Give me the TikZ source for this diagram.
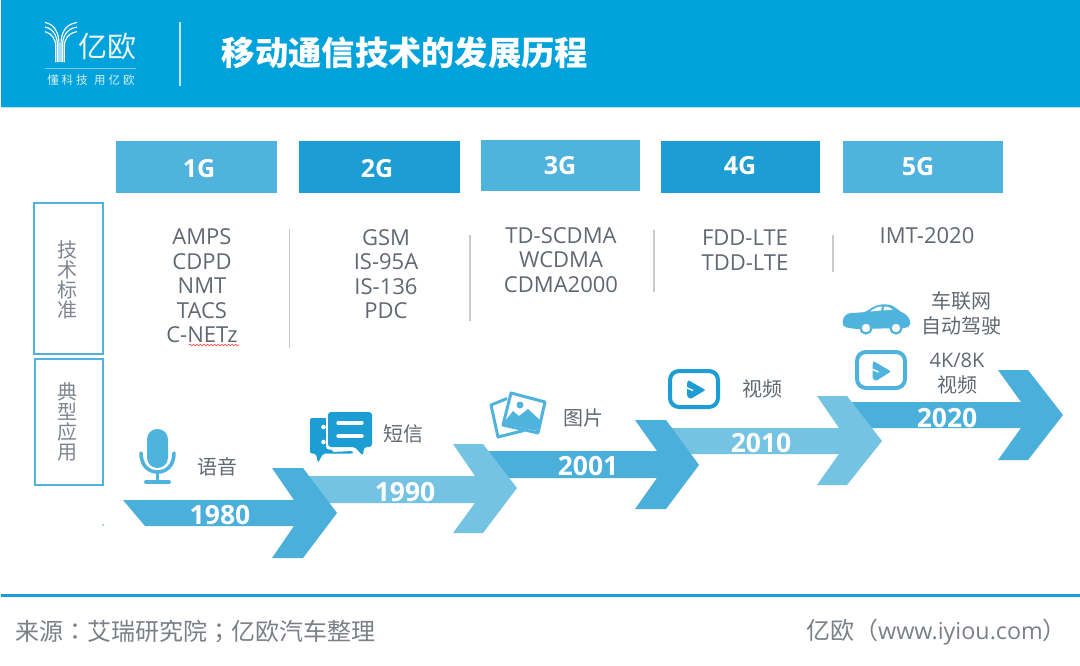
\documentclass[tikz,border=0pt]{standalone}
\usepackage{fontspec}
\setmainfont{Open Sans}
\newfontfamily\cjk{Noto Sans CJK SC}
\newfontfamily\cjktc{Noto Sans CJK TC}
\usetikzlibrary{decorations.pathmorphing}
\definecolor{hdr}{HTML}{00A2DB}
\definecolor{boxA}{HTML}{50B3DE}
\definecolor{boxB}{HTML}{1C9DD3}
\definecolor{arrD}{HTML}{4AAFDB}
\definecolor{arrL}{HTML}{74C3E3}
\definecolor{txt}{HTML}{626872}
\definecolor{sideT}{HTML}{7F8590}
\definecolor{sep}{HTML}{C9C9C9}
\definecolor{foot}{HTML}{7B8087}
\tikzset{
  genbox/.style={inner sep=0pt,text=white,font=\bfseries\fontsize{25}{27}\selectfont},
  sidebox/.style={draw=boxA,line width=2pt,fill=white},
  sidetext/.style={inner sep=0pt,align=center,text=sideT,font=\cjk\fontsize{20}{20}\selectfont},
  stdtext/.style={inner sep=0pt,align=center,text=txt,font=\fontsize{22}{24.5}\selectfont},
  apptext/.style={inner sep=0pt,align=center,text=txt,font=\cjk\fontsize{20}{25}\selectfont},
  yeartext/.style={inner sep=0pt,text=white,font=\bfseries\fontsize{26.5}{26.5}\selectfont},
  seprule/.style={draw=sep,line width=1.4pt},
  logoline/.style={draw=white,line width=1.15pt},
}
\begin{document}
\begin{tikzpicture}[x=1pt,y=-1pt]
\useasboundingbox (0,0) rectangle (1080,665);
\fill[white] (0,0) rectangle (1080,665);
% header
\fill[hdr] (1,0) rectangle (1080,107);
\draw[line width=1.2pt,draw=white!70!hdr] (1,107.5) -- (1080,107.5);
% logo
\foreach \i in {0,1,2}{
  \draw[logoline] ({59-\i*1.6},62) -- ({59-\i*1.6},{44+\i}) .. controls ({59-\i*1.6},{32+\i*4}) and ({54-\i},{24+\i*4.5}) .. (45,{22.5+\i*4.6});
  \draw[logoline] ({61+\i*1.6},62) -- ({61+\i*1.6},{44+\i}) .. controls ({61+\i*1.6},{32+\i*4}) and ({66+\i},{24+\i*4.5}) .. (77,{22.5+\i*4.6});
}
\node[inner sep=0pt,text=white!92!hdr,font=\cjk\fontsize{29}{29}\selectfont] (logotxt) at (107,47) {亿欧};
\draw[draw=white!45!hdr,line width=1pt] (45,68) -- (136,68);
\node[inner sep=0pt,text=white!85!hdr,font=\cjk\fontsize{11.5}{12}\selectfont] (logosub) at (91,80) {懂\hspace{3pt}科\hspace{3pt}技\hspace{6.5pt}用\hspace{3pt}亿\hspace{3pt}欧};
\draw[draw=white!75!hdr,line width=1.8pt] (180,22) -- (180,86);
\node[inner sep=0pt,text=white,font=\cjk\bfseries\fontsize{33.3}{35}\selectfont] (title) at (405,53) {移动通信技术的发展历程};

% generation boxes
\fill[boxA] (116,141) rectangle (277,193);
\fill[boxB] (299,141) rectangle (460,193);
\fill[boxA] (481,140) rectangle (640,191);
\fill[boxB] (661,141) rectangle (820,193);
\fill[boxA] (843,141) rectangle (1003,193);
\node[genbox] (g1) at (199,169) {1G};
\node[genbox] (g2) at (377,169) {2G};
\node[genbox] (g3) at (560,166) {3G};
\node[genbox] (g4) at (740,166) {4G};
\node[genbox] (g5) at (918,167) {5G};

% side boxes
\draw[sidebox] (34,203) rectangle (102.5,353.5);
\draw[sidebox] (35,359) rectangle (102.5,485);
\node[sidetext] (s1) at (67,280) {技\\术\\标\\准};
\node[sidetext] (s2) at (67,422) {典\\型\\应\\用};

% standards
\node[stdtext] (c1) at (202,286) {AMPS\\CDPD\\NMT\\TACS\\C-NETz};
\node[stdtext] (c2) at (386,274) {GSM\\IS-95A\\IS-136\\PDC};
\node[stdtext] (c3) at (561,260) {TD-SCDMA\\WCDMA\\CDMA2000};
\node[stdtext] (c4) at (745,250) {FDD-LTE\\TDD-LTE};
\node[stdtext] (c5) at (927,236) {IMT-2020};
\draw[draw=red!70!white,line width=.7pt,decorate,decoration={snake,amplitude=.8pt,segment length=3.5pt}] (189,345) -- (239,345);
\draw[seprule] (289.5,229) -- (289.5,348);
\draw[seprule] (470,235) -- (470,321);
\draw[seprule] (654,230) -- (654,292);
\draw[seprule] (833,235) -- (833,272);

% chevrons, last one first so that each head lies over the next tail
\fill[arrD] (845,402) -- (1021,402) -- (998,370) -- (1028,370) -- (1063,415) -- (1028,460) -- (998,460) -- (1021,428) -- (845,428) -- cycle;
\fill[arrL] (660,428) -- (839,428) -- (817,396) -- (847,396) -- (882,441) -- (847,485) -- (817,485) -- (839,454) -- (660,454) -- cycle;
\fill[arrD] (480,451) -- (657,451) -- (635,420) -- (666,420) -- (699,465) -- (666,509) -- (635,509) -- (657,478) -- (480,478) -- cycle;
\fill[arrL] (298,476) -- (475,476) -- (453,444) -- (483,444) -- (517,488) -- (483,533) -- (453,533) -- (475,503) -- (298,503) -- cycle;
\fill[arrD] (123,500) -- (294,500) -- (272,468) -- (303,468) -- (337,513) -- (303,558) -- (272,558) -- (294,526) -- (145,526) -- cycle;
\fill[arrD] (103,525) circle (.8);
\node[yeartext] (y1) at (220,515) {1980};
\node[yeartext] (y2) at (405,492) {1990};
\node[yeartext] (y3) at (588,466) {2001};
\node[yeartext] (y4) at (761,443) {2010};
\node[yeartext] (y5) at (947,418) {2020};

% application labels
\node[apptext] (a1) at (217,467) {语音};
\node[apptext] (a2) at (403,434) {短信};
\node[apptext] (a3) at (583,418) {图片};
\node[apptext] (a4) at (762,389) {视频};
\node[apptext] (a5) at (961,313) {车联网\\自动驾驶};
\node[apptext] (a6) at (957,374) {{\fontspec{Open Sans}4K/8K}\\视频};

% microphone
\fill[boxA,rounded corners=10.4pt] (147,429) rectangle (168,468);
\draw[boxA,line width=3.6pt,line cap=round] (141,453) .. controls (141,466) and (149,472) .. (157.5,472) .. controls (166,472) and (174,466) .. (174,453);
\draw[boxA,line width=3.4pt] (157.5,472) -- (157.5,481);
\draw[boxA,line width=4pt,line cap=round] (146,482) -- (169,482);

% message icon
\fill[boxB,rounded corners=2pt] (310,418) -- (332,418) -- (332,452) -- (353,451) -- (353,453.5) -- (323,453.5) -- (318,463) -- (316,453.5) -- (310,453.5) -- cycle;
\fill[white,rounded corners=3pt] (326,410) rectangle (374,449.5);
\fill[white] (323.5,427) circle (2.3) (323.5,442) circle (2.3);
\fill[boxB,rounded corners=3pt] (328,412) -- (372,412) -- (372,447) -- (364,447) -- (363,456) -- (355,447) -- (328,447) -- cycle;
\draw[white,line width=3.2pt,line cap=round] (338,423) -- (362,423);
\draw[white,line width=3.2pt,line cap=round] (338,436) -- (362,436);

% picture icon
\draw[boxA,line width=3pt,line join=round] (507,398.5) -- (491,405) -- (498,437) -- (524,430.5);
\draw[boxA,line width=3pt,line join=round,fill=white] (511,393) -- (545,402) -- (538,433) -- (503,425) -- cycle;
\fill[boxA] (505,421) -- (513,411) -- (519,416) -- (528,409) -- (540,420) -- (537,431) -- (504,424) -- cycle;
\fill[boxA] (520,405) circle (3.5);

% video icon, 4G row
\draw[boxB,line width=4pt,rounded corners=9pt] (670,371) rectangle (718,407);
\fill[boxB,rounded corners=1pt] (688,380) -- (705.5,390) -- (690.5,399) -- (687,396) -- (687,384) -- cycle;
\draw[white,line width=1.5pt] (686,387.5) -- (693,390.5);
% video icon, 5G row
\draw[boxA,line width=4pt,rounded corners=9pt] (857,352) rectangle (905,388);
\fill[boxA,rounded corners=1pt] (873.5,361) -- (891,371.5) -- (876,381) -- (872.5,378) -- (872.5,365) -- cycle;
\draw[white,line width=1.5pt] (871.5,369) -- (878.5,372);

% car
\fill[boxA,rounded corners=2pt] (844,327) .. controls (841,320) and (845,313) .. (853,313) -- (866,312) .. controls (873,306) and (880,304) .. (887,304.5) .. controls (893,305) and (897,309) .. (901,312) .. controls (906,314) and (911,319) .. (910,326) -- (906,328) -- (856,329) -- cycle;
\fill[white] (870,311.5) .. controls (875,307.5) and (879,306.5) .. (882,306.5) -- (881,310.5) -- cycle;
\fill[white] (884,306.5) .. controls (888,306.5) and (890,307.5) .. (893,309.5) -- (883.5,310.5) -- cycle;
\draw[boxA,line width=2.2pt,fill=white] (866,328) circle (5.5);
\draw[boxA,line width=2.2pt,fill=white] (896,328) circle (5.5);

% footer
\fill[boxB!80!hdr] (1,594) rectangle (1080,597);
\node[inner sep=0pt,anchor=west,text=foot,font=\cjktc\fontsize{24}{24}\selectfont] (src) at (15,632) {来源：艾瑞研究院；亿欧汽车整理};
\node[inner sep=0pt,anchor=west,text=foot,font=\cjk\fontsize{24}{24}\selectfont] (site) at (806,632) {亿欧（{\fontspec{Open Sans}\fontsize{23.3}{24}\selectfont www.iyiou.com}）};
\end{tikzpicture}
\end{document}
